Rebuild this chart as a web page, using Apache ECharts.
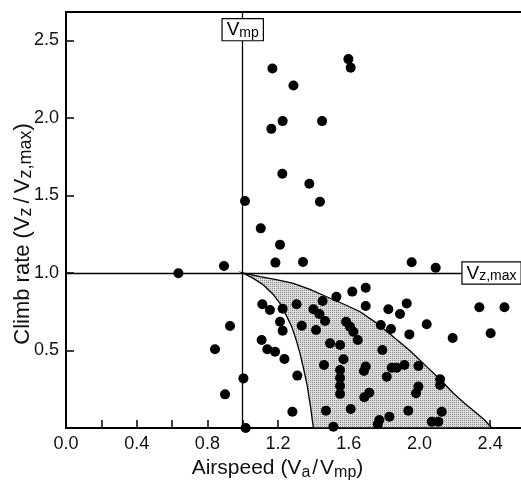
<!DOCTYPE html>
<html><head><meta charset="utf-8">
<script src="https://cdn.jsdelivr.net/npm/echarts@6/dist/echarts.min.js"></script>
<style>html,body{margin:0;padding:0;background:#fff}#c{width:521px;height:480px}</style>
</head><body><div id="c"></div>
<script>
// Observed points: airspeed (Va/Vmp) and climb rate (Vz/Vz,max)
const airspeed = [1.598,1.611,1.168,1.287,1.226,1.162,1.449,1.224,1.377,1.437,
  1.013,1.102,1.211,1.185,1.341,0.894,0.636,0.928,0.843,1.004,
  0.900,1.017,1.956,2.092,2.339,2.481,2.403,2.188,2.041,1.928,
  1.890,1.824,1.696,1.620,1.696,1.530,1.452,1.305,1.226,1.111,
  1.154,1.400,1.434,1.466,1.211,1.334,1.226,1.415,1.585,1.607,
  1.626,1.651,1.781,1.839,1.943,1.494,1.551,1.107,1.139,1.183,
  1.236,1.790,1.570,1.460,1.309,1.696,1.686,1.843,1.871,1.915,
  1.994,1.815,1.551,1.551,1.551,1.551,2.117,2.117,1.994,1.981,
  1.716,1.688,1.281,1.471,1.611,1.830,1.937,2.126,1.773,1.764,
  2.070,2.107,1.513];
const climb = [2.380,2.325,2.320,2.210,1.980,1.930,1.980,1.640,1.576,1.460,
  1.465,1.288,1.183,1.067,1.071,1.045,0.998,0.658,0.508,0.320,
  0.217,0.000,1.069,1.034,0.779,0.779,0.611,0.581,0.669,0.804,
  0.735,0.766,0.905,0.880,0.787,0.847,0.819,0.798,0.770,0.798,
  0.761,0.766,0.735,0.690,0.686,0.660,0.628,0.632,0.686,0.654,
  0.621,0.568,0.665,0.639,0.604,0.546,0.535,0.568,0.508,0.492,
  0.445,0.503,0.443,0.406,0.338,0.396,0.368,0.389,0.389,0.406,
  0.400,0.331,0.374,0.323,0.271,0.219,0.314,0.277,0.267,0.224,
  0.228,0.198,0.105,0.112,0.123,0.073,0.112,0.105,0.052,0.024,
  0.041,0.041,0.008];

// Shaded envelope boundaries
const leftEdgeX  = [1.000,1.060,1.117,1.170,1.211,1.245,1.277,1.302,1.324,1.346,1.366,1.384,1.400];
const leftEdgeY  = [1.000,0.965,0.923,0.865,0.804,0.730,0.654,0.570,0.482,0.375,0.267,0.135,0.000];
const upperEdgeX = [1.000,1.098,1.190,1.287,1.380,1.475,1.570,1.664,1.760,1.852,1.950,2.041,2.120,2.192,2.260,2.324,2.370,2.410];
const upperEdgeY = [1.000,0.976,0.957,0.933,0.895,0.847,0.800,0.750,0.675,0.589,0.495,0.396,0.310,0.224,0.155,0.095,0.050,0.000];

const xTickLabels = ['0.0','0.4','0.8','1.2','1.6','2.0','2.4'];
const yTickLabels = ['0.5','1.0','1.5','2.0','2.5'];
const refSpeed = 1.0;   // Vmp
const refClimb = 1.0;   // Vz,max

const FONT = 'Liberation Sans, Arial, Helvetica, sans-serif';

const pc = document.createElement('canvas'); pc.width = 2; pc.height = 2;
const g = pc.getContext('2d');
g.fillStyle = '#dcdcdc'; g.fillRect(0,0,2,2);
g.fillStyle = '#8c8c8c'; g.fillRect(0,0,1,1);
const stipple = {image: pc, repeat: 'repeat'};

const pts = airspeed.map((x,i)=>[x, climb[i]]);
const xRich = {
  v:{fontSize:21, fontFamily:FONT, color:'#111', lineHeight:24},
  sl:{fontSize:21, fontFamily:FONT, color:'#111', lineHeight:24, padding:[0,2,0,2]},
  s:{fontSize:16, fontFamily:FONT, color:'#111', lineHeight:15, verticalAlign:'bottom'}
};
const yRich = {
  v:{fontSize:22, fontFamily:FONT, color:'#111', lineHeight:25},
  sl:{fontSize:22, fontFamily:FONT, color:'#111', lineHeight:25, padding:[0,4,0,4]},
  s:{fontSize:18, fontFamily:FONT, color:'#111', lineHeight:16, verticalAlign:'bottom'}
};

const chart = echarts.init(document.getElementById('c'), null, {renderer:'canvas'});
chart.setOption({
  animation:false,
  grid:{left:66, top:12, right:-2, bottom:52, containLabel:false, outerBoundsMode:'none',
    show:true, borderColor:'#000', borderWidth:2},
  xAxis:{type:'value', min:0, max:2.586, interval:0.2,
    axisLine:{lineStyle:{color:'#000', width:2}},
    axisTick:{inside:true, length:8, lineStyle:{color:'#000', width:1.5}},
    axisLabel:{margin:7, fontSize:18, color:'#111', fontFamily:FONT,
      formatter:v=>{const s=v.toFixed(1); return (Math.abs(v*10-Math.round(v*10))<1e-6 && xTickLabels.includes(s))?s:'';}},
    splitLine:{show:false},
    name:'{v|Airspeed (V}{s|a}{sl|/}{v|V}{s|mp}{v|)}', nameLocation:'middle', nameGap:28,
    nameTextStyle:{fontSize:21, fontFamily:FONT, color:'#111', padding:[0,34,0,0], rich:xRich}
  },
  yAxis:{type:'value', min:0, max:2.684, interval:0.5,
    axisLine:{lineStyle:{color:'#000', width:2}},
    axisTick:{inside:true, length:8, lineStyle:{color:'#000', width:1.5}},
    axisLabel:{margin:7, fontSize:18, color:'#111', fontFamily:FONT,
      formatter:v=>{const s=v.toFixed(1); return (Math.abs(v*10-Math.round(v*10))<1e-6 && yTickLabels.includes(s))?s:'';}},
    splitLine:{show:false},
    name:'{v|Climb rate (V}{s|z}{sl|/}{v|V}{s|z,max}{v|)}', nameLocation:'middle', nameGap:31, nameRotate:90,
    nameMoveOverlap:false,
    nameTextStyle:{fontSize:22, fontFamily:FONT, color:'#111', padding:[0,28,0,0], rich:yRich}
  },
  series:[
    {type:'custom', coordinateSystem:'cartesian2d', silent:true, z:1, data:[[1,0]],
      renderItem:(params, api)=>{
        const poly=[];
        for(let i=0;i<leftEdgeX.length;i++) poly.push(api.coord([leftEdgeX[i], leftEdgeY[i]]));
        for(let i=upperEdgeX.length-1;i>=0;i--) poly.push(api.coord([upperEdgeX[i], upperEdgeY[i]]));
        return {type:'polygon', shape:{points:poly}, style:{fill:stipple, stroke:'#000', lineWidth:1.3}};
      }},
    {type:'scatter', z:3, symbol:'circle', symbolSize:10, itemStyle:{color:'#000', opacity:1}, data:pts,
      markLine:{silent:true, symbol:'none', label:{show:false},
        lineStyle:{color:'#000', width:1.3, type:'solid', opacity:1},
        data:[{xAxis:refSpeed},{yAxis:refClimb}]}},
    {type:'scatter', z:5, symbolSize:1, itemStyle:{color:'rgba(0,0,0,0)', opacity:1},
      label:{show:true, position:'inside', backgroundColor:'#fff', borderColor:'#000', borderWidth:1.2,
        padding:[1,4,0,4], rich:{v:{fontSize:19, fontFamily:FONT, color:'#000', lineHeight:20},
          s:{fontSize:14, fontFamily:FONT, color:'#000', lineHeight:13, verticalAlign:'bottom'}}},
      data:[{value:[refSpeed, 2.57], label:{formatter:'{v|V}{s|mp}'}},
            {value:[2.408, refClimb], label:{formatter:'{v|V}{s|z,max}'}}]}
  ]
});
</script></body></html>
